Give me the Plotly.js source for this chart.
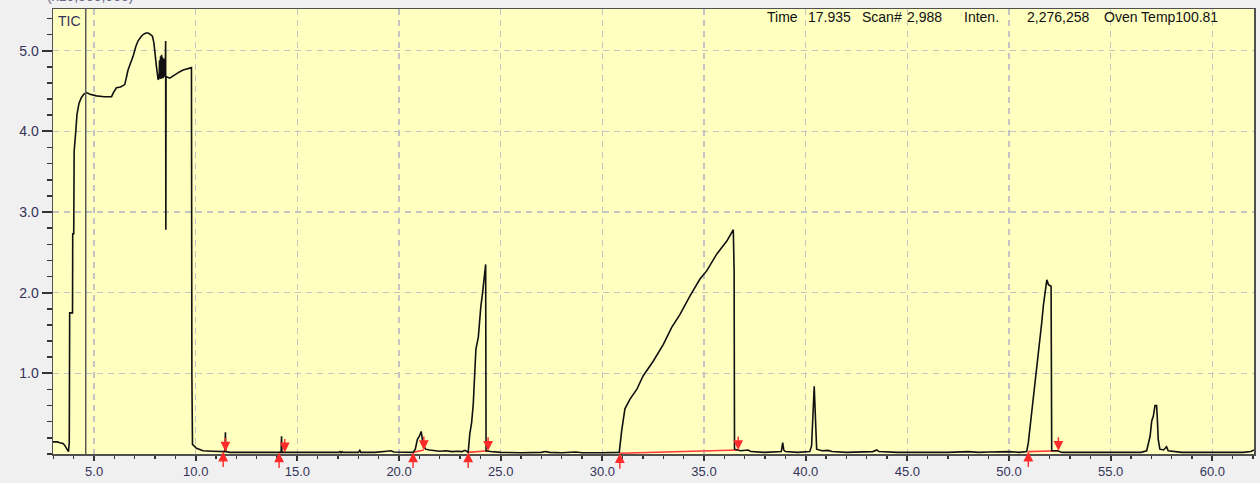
<!DOCTYPE html>
<html><head><meta charset="utf-8">
<script src="https://cdn.plot.ly/plotly-3.0.1.min.js"></script>
<style>html,body{margin:0;padding:0;background:#f0f0f0;}#chart{width:1260px;height:483px;}</style>
</head><body><div id="chart"></div>
<script>
// Retention time (min) and TIC intensity (x10,000,000)
const retentionTime = [
 2.98,3.20,3.31,3.47,3.55,3.61,3.70,3.74,3.78,3.80,3.94,3.95,4.00,4.02,4.10,4.16,4.26,4.38,4.49,4.63,4.80,5.12,5.50,5.86,5.95,6.10,6.30,6.51,6.60,6.67,6.80,6.92,7.05,7.16,7.30,7.41,7.55,7.66,7.78,7.87,7.94,7.99,8.07,8.15,
 8.20,8.22,8.24,8.27,8.29,8.32,8.34,8.37,8.40,8.43,8.46,8.50,8.52,8.53,8.54,8.72,8.90,9.05,9.22,9.38,9.50,9.62,9.79,9.81,9.84,
 10.04,10.36,10.80,11.35,11.44,11.46,11.48,11.68,12.5,13.5,14.14,14.20,14.22,14.24,15.0,16.0,17.05,17.10,17.15,17.20,17.25,18.0,18.07,18.12,18.8,19.4,19.6,19.75,20.3,
 20.69,20.80,20.90,21.00,21.09,21.18,21.30,21.5,21.8,22.0,22.3,22.6,22.9,23.1,23.25,
 23.40,23.48,23.57,23.65,23.73,23.78,23.90,23.95,24.02,24.11,24.19,24.26,24.28,24.5,25.0,26.0,27.0,27.2,27.4,28.0,28.7,29.0,30.0,
 30.83,30.95,31.11,31.36,31.69,32.01,32.50,33.00,33.41,33.82,34.31,34.80,35.13,35.63,36.12,36.44,36.48,36.50,36.8,37.17,37.3,38.0,38.8,38.87,38.92,39.0,39.6,
 40.2,40.29,40.42,40.50,40.54,40.8,41.1,41.3,42.0,43.3,43.5,43.6,44.5,45.5,47.0,48.0,48.5,49.0,50.0,50.5,
 50.87,50.95,51.12,51.28,51.44,51.61,51.69,51.77,51.86,51.94,52.02,52.07,52.10,52.4,52.6,53.5,54.5,55.5,56.5,
 56.77,56.94,57.02,57.10,57.18,57.26,57.29,57.34,57.42,57.6,57.75,57.83,58.5,60.0,61.5,61.9,62.05
];
const ticIntensity = [
 0.15,0.15,0.14,0.13,0.11,0.08,0.03,0.03,0.14,1.75,1.75,2.73,2.73,3.75,4.00,4.21,4.35,4.42,4.46,4.48,4.46,4.44,4.43,4.43,4.48,4.54,4.55,4.58,4.68,4.76,4.85,4.93,5.05,5.12,5.17,5.20,5.22,5.22,5.20,5.18,5.10,5.01,4.80,4.64,
 4.66,4.88,4.66,4.93,4.65,4.95,4.66,4.92,4.66,4.90,4.68,4.70,5.12,2.78,4.68,4.66,4.69,4.72,4.74,4.76,4.77,4.78,4.79,1.00,0.12,
 0.07,0.04,0.035,0.03,0.03,0.27,0.03,0.02,0.02,0.02,0.02,0.02,0.22,0.02,0.02,0.02,0.02,0.03,0.015,0.03,0.02,0.02,0.045,0.02,0.02,0.035,0.04,0.025,0.02,
 0.02,0.06,0.18,0.22,0.28,0.12,0.06,0.05,0.04,0.035,0.04,0.03,0.035,0.03,0.045,
 0.02,0.25,0.39,0.62,1.18,1.30,1.45,1.65,1.82,2.00,2.23,2.35,0.04,0.03,0.02,0.015,0.02,0.03,0.02,0.015,0.025,0.015,0.015,
 0.02,0.29,0.56,0.68,0.80,0.97,1.15,1.36,1.57,1.73,1.96,2.17,2.27,2.48,2.64,2.78,2.27,0.06,0.04,0.05,0.03,0.02,0.03,0.14,0.05,0.03,0.02,
 0.03,0.10,0.84,0.20,0.06,0.04,0.045,0.03,0.02,0.03,0.05,0.03,0.02,0.02,0.02,0.03,0.02,0.025,0.03,0.02,
 0.03,0.14,0.51,0.85,1.21,1.63,1.84,2.00,2.16,2.10,2.08,2.08,0.04,0.04,0.02,0.02,0.02,0.02,0.02,
 0.04,0.22,0.41,0.47,0.60,0.60,0.47,0.18,0.06,0.05,0.09,0.04,0.02,0.02,0.02,0.03,0.05
];
// Integration marks (start / end of each peak and baseline level there)
const peakStart      = [11.35, 14.10, 20.69, 23.40, 30.86, 50.95];
const peakStartLevel = [0.03, 0.02, 0.02, 0.02, 0.01, 0.03];
const peakEnd        = [11.46, 14.38, 21.22, 24.38, 36.68, 52.43];
const peakEndLevel   = [0.03, 0.02, 0.05, 0.04, 0.05, 0.04];
const cursorTime = 4.59;

const xTickVals = [5,10,15,20,25,30,35,40,45,50,55,60];
const xTickText = ["5.0","10.0","15.0","20.0","25.0","30.0","35.0","40.0","45.0","50.0","55.0","60.0"];
const yTickVals = [1,2,3,4,5];
const yTickText = ["1.0","2.0","3.0","4.0","5.0"];
const headerLabels = ["Time","17.935","Scan#","2,988","Inten.","2,276,258","Oven Temp100.81"];

// ---------- layout constants ----------
const W = 1260, H = 483, ML = 53, MR = 6, MT = 9, MB = 29;
const PW = W - ML - MR, PH = H - MT - MB;
const px2paperX = p => (p - ML) / PW;
const py2paperY = p => (H - MB - p) / PH;
const headerLeft = [765, 806, 860, 905, 962, 1025, 1102];
const labelColor = '#33335a';

const traces = [];
// red integration baselines
const bx = [], by = [];
peakStart.forEach((s, i) => { bx.push(s, peakEnd[i], null); by.push(peakStartLevel[i], peakEndLevel[i], null); });
traces.push({x: bx, y: by, mode: 'lines', line: {color: '#ff3a3a', width: 1.6}, hoverinfo: 'skip', showlegend: false});
traces.push({x: retentionTime, y: ticIntensity, mode: 'lines', line: {color: '#111111', width: 1.6}, showlegend: false});

const annotations = [];
peakStart.forEach((s, i) => annotations.push({x: s, y: peakStartLevel[i], xref: 'x', yref: 'y', text: '', showarrow: true,
  ax: 0, ay: 17, arrowcolor: '#ff2a2a', arrowwidth: 1.4, arrowhead: 2, arrowsize: 1.4}));
peakEnd.forEach((e, i) => annotations.push({x: e, y: peakEndLevel[i], xref: 'x', yref: 'y', text: '', showarrow: true,
  ax: 0, ay: -15, arrowcolor: '#ff2a2a', arrowwidth: 1.4, arrowhead: 2, arrowsize: 1.4}));
annotations.push({xref: 'paper', yref: 'paper', x: px2paperX(56), y: py2paperY(11), xanchor: 'left', yanchor: 'top',
  text: 'TIC', showarrow: false, font: {family: 'Liberation Sans, Arial, sans-serif', size: 14, color: labelColor}});
annotations.push({xref: 'paper', yref: 'paper', x: px2paperX(45), y: py2paperY(-4), xanchor: 'left', yanchor: 'middle',
  text: '(x10,000,000)', showarrow: false, font: {family: 'Liberation Sans, Arial, sans-serif', size: 14, color: '#6a6a88'}});
headerLabels.forEach((t, i) => annotations.push({xref: 'paper', yref: 'paper', x: px2paperX(headerLeft[i]), y: py2paperY(17),
  xanchor: 'left', yanchor: 'middle', text: t, showarrow: false,
  font: {family: 'Liberation Sans, Arial, sans-serif', size: 14, color: '#111111'}}));

const gridStyle = {showgrid: true, gridcolor: '#c4c4c4', gridwidth: 1.5, griddash: '6px,5px'};
const layout = {
  width: W, height: H,
  margin: {l: ML, r: MR, t: MT, b: MB, pad: 0},
  paper_bgcolor: '#f0f0f0', plot_bgcolor: '#ffffc0',
  showlegend: false,
  font: {family: 'Liberation Sans, Arial, sans-serif', size: 13, color: labelColor},
  xaxis: Object.assign({
    range: [2.98, 62.05], tickmode: 'array', tickvals: xTickVals, ticktext: xTickText,
    ticks: 'outside', ticklen: 5, tickwidth: 2, tickcolor: '#333333',
    minor: {dtick: 1, tick0: 0, ticks: 'outside', ticklen: 3, tickwidth: 1.5, tickcolor: '#333333', showgrid: false},
    showline: true, linecolor: '#505050', linewidth: 1.5, mirror: true, zeroline: false,
    tickfont: {size: 13, color: labelColor}
  }, gridStyle),
  yaxis: Object.assign({
    range: [0, 5.517], tickmode: 'array', tickvals: yTickVals, ticktext: yTickText,
    ticks: 'outside', ticklen: 10, tickwidth: 2, tickcolor: '#333333',
    minor: {dtick: 0.2, tick0: 0, ticks: 'outside', ticklen: 5, tickwidth: 1.5, tickcolor: '#333333', showgrid: false},
    showline: true, linecolor: '#505050', linewidth: 1.5, mirror: true, zeroline: false,
    tickfont: {size: 14, color: labelColor}
  }, gridStyle),
  shapes: [{type: 'line', xref: 'x', yref: 'paper', x0: cursorTime, x1: cursorTime, y0: 0, y1: 1,
    line: {color: '#5a5a5a', width: 1.5}}],
  annotations: annotations
};
Plotly.newPlot('chart', traces, layout, {staticPlot: true, displayModeBar: false});
</script>
</body></html>
